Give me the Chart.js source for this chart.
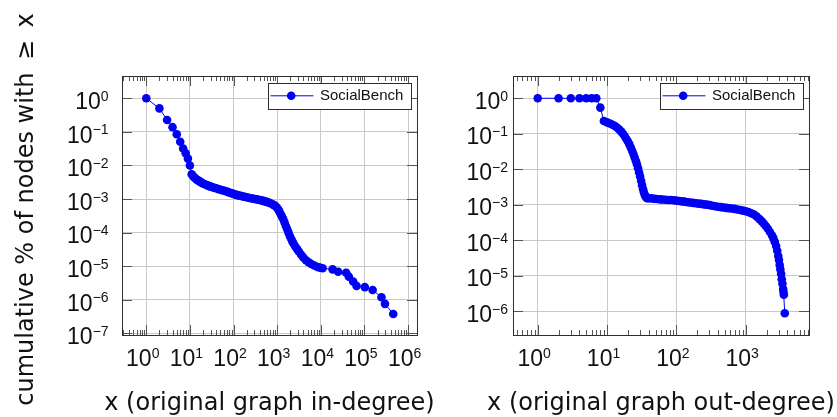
<!DOCTYPE html>
<html>
<head>
<meta charset="utf-8">
<script src="https://cdn.jsdelivr.net/npm/chart.js@4"></script>
<style>
  body { margin: 0; background: #fff; }
  #wrap { position: relative; width: 837px; height: 417px; }
  #wrap canvas { position: absolute; top: 0; }
</style>
</head>
<body>
<div id="wrap">
  <canvas id="inChart" width="440" height="417" style="left:0"></canvas>
  <canvas id="outChart" width="397" height="417" style="left:440px"></canvas>
</div>
<script>
const seriesName = "SocialBench";

// in-degree distribution: degree x, fraction of nodes with degree >= x
const inDeg = [1, 2, 3, 4, 5, 6, 7, 8, 9, 10,
  11, 12, 13, 14, 15, 16, 17, 18, 19, 20, 22, 24, 26, 28, 30, 33, 36, 40, 44, 48,
  53, 58, 64, 71, 78, 87, 96, 106, 117, 129, 142, 157, 173, 191, 210, 232, 256, 282, 311, 343,
  378, 417, 460, 500, 550, 600, 660, 720, 790, 850, 910, 980, 1050, 1120, 1200, 1290, 1380, 1480, 1580, 1700,
  1820, 1950, 2090, 2240, 2400, 2630, 2880, 3160, 3550, 3980, 4570, 5250, 6030, 7080, 8320, 9550,
  11000, 18600, 25000, 38000, 44000, 55000, 66000, 102000, 154000, 245000, 295000, 457000];
const inFrac = [1, 0.5, 0.226, 0.138, 0.085, 0.051, 0.032, 0.023, 0.016, 0.010,
  5.5e-3, 4.68e-3, 4.27e-3, 3.89e-3, 3.63e-3, 3.47e-3, 3.31e-3, 3.16e-3, 3.02e-3, 2.92e-3,
  2.75e-3, 2.63e-3, 2.51e-3, 2.43e-3, 2.34e-3, 2.24e-3, 2.16e-3, 2.09e-3, 2.0e-3, 1.93e-3,
  1.86e-3, 1.80e-3, 1.74e-3, 1.66e-3, 1.58e-3, 1.51e-3, 1.45e-3, 1.38e-3, 1.33e-3, 1.29e-3,
  1.26e-3, 1.22e-3, 1.17e-3, 1.15e-3, 1.11e-3, 1.08e-3, 1.06e-3, 1.02e-3, 1.0e-3, 9.8e-4,
  9.5e-4, 9.2e-4, 9.0e-4, 8.7e-4, 8.4e-4, 8.1e-4, 7.8e-4, 7.4e-4, 6.9e-4, 6.6e-4,
  6.2e-4, 5.6e-4, 5.0e-4, 4.3e-4, 3.6e-4, 3.0e-4, 2.5e-4, 2.0e-4, 1.58e-4, 1.26e-4,
  1.0e-4, 7.9e-5, 6.6e-5, 5.4e-5, 4.6e-5, 3.8e-5, 3.2e-5, 2.7e-5, 2.2e-5, 1.82e-5,
  1.51e-5, 1.32e-5, 1.17e-5, 1.05e-5, 9.5e-6, 9.1e-6,
  8.7e-6, 8.1e-6, 6.9e-6, 6.4e-6, 4.9e-6, 3.5e-6, 2.6e-6, 2.4e-6, 1.96e-6, 1.2e-6, 7.6e-7, 3.8e-7];

// out-degree distribution
const outDeg = [1, 2, 3, 4, 5, 6, 7, 8,
  9, 10, 11, 12, 13, 14, 15, 16, 17, 18, 19, 20, 21, 22, 23, 24, 25, 26, 27, 28, 29, 30,
  31, 32, 33, 34, 35, 36, 37, 38,
  40, 44, 48, 52, 58, 63, 69, 76, 83, 91, 100, 110, 120, 132, 145, 158, 174, 191, 209, 229,
  251, 275, 302, 331, 363, 398, 437, 479, 525, 575, 631, 692, 759, 832, 912, 1000, 1096, 1202, 1318, 1445,
  1585, 1700, 1820, 1950, 2090, 2240, 2400, 2510, 2630, 2750, 2850, 2950, 3020, 3090, 3160, 3240, 3310, 3390, 3470, 3510,
  3550, 3660];
const outFrac = [1, 1, 1, 1, 1, 1, 1, 0.546,
  0.229, 0.209, 0.195, 0.18, 0.166, 0.148, 0.132, 0.115, 0.1, 0.0851, 0.0708, 0.0603, 0.0501, 0.0407, 0.0331, 0.0269,
  0.0214, 0.0174, 0.0138, 0.0107, 8.1e-3, 6.2e-3, 4.7e-3, 3.55e-3, 2.75e-3, 2.24e-3, 1.9e-3, 1.7e-3, 1.58e-3, 1.53e-3,
  1.51e-3, 1.5e-3, 1.46e-3, 1.45e-3, 1.41e-3, 1.4e-3, 1.38e-3, 1.36e-3, 1.35e-3, 1.33e-3,
  1.3e-3, 1.27e-3, 1.24e-3, 1.22e-3, 1.17e-3, 1.15e-3, 1.12e-3, 1.1e-3, 1.07e-3, 1.05e-3,
  1.02e-3, 1.0e-3, 9.7e-4, 9.3e-4, 9.0e-4, 8.7e-4, 8.5e-4, 8.3e-4, 8.1e-4, 7.9e-4,
  7.8e-4, 7.6e-4, 7.3e-4, 7.1e-4, 6.8e-4, 6.5e-4, 6.2e-4, 5.75e-4, 5.25e-4, 4.6e-4,
  3.9e-4, 3.4e-4, 2.95e-4, 2.5e-4, 2.1e-4, 1.7e-4, 1.35e-4, 1.12e-4, 8.9e-5, 6.8e-5,
  5.0e-5, 3.55e-5, 2.75e-5, 2.0e-5, 1.5e-5, 1.12e-5, 7.9e-6, 5.9e-6, 4.2e-6, 3.5e-6,
  2.9e-6, 8.7e-7];

// tick exponents (labels are 10^e)
const inXExp = [0, 1, 2, 3, 4, 5, 6];
const inYExp = [0, -1, -2, -3, -4, -5, -6, -7];
const outXExp = [0, 1, 2, 3];
const outYExp = [0, -1, -2, -3, -4, -5, -6];

const yTitle = "cumulative % of nodes with \u2009\u2265\u2009 x";
const inTitle = "x (original graph in-degree)";
const outTitle = "x (original graph out-degree)";

const blue = "#0000f2";
const gridColor = "#c8c8c8";
const tickColor = "#555";
const frameColor = "#2e2e2e";
const numFont = "23px 'Liberation Sans'";
const supFont = "14px 'Liberation Sans'";
const titleFont = "24px 'DejaVu Sans'";

function drawPow(ctx, exp, x, y, align) {
  const sup = exp < 0 ? "\u2212" + -exp : String(exp);
  ctx.font = numFont;
  const wb = ctx.measureText("10").width;
  ctx.font = supFont;
  const ws = ctx.measureText(sup).width;
  const total = wb + ws;
  const left = align === "right" ? x - total : x - total / 2;
  ctx.textAlign = "left";
  ctx.textBaseline = "alphabetic";
  ctx.fillStyle = "#111";
  ctx.font = numFont;
  ctx.fillText("10", left, y);
  ctx.font = supFont;
  ctx.fillText(sup, left + wb, y - 8.2);
}

const decor = {
  id: "decor",
  afterDraw(chart, args, o) {
    const ctx = chart.ctx;
    const a = chart.chartArea;
    const xs = chart.scales.x;
    const ys = chart.scales.y;
    ctx.save();

    // tick marks, drawn inward on all four sides
    ctx.strokeStyle = tickColor;
    ctx.lineWidth = 1;
    ctx.beginPath();
    const e0 = Math.floor(Math.log10(xs.min));
    const e1 = Math.ceil(Math.log10(xs.max));
    for (let e = e0; e <= e1; e++) {
      for (let m = 2; m <= 9; m++) {
        const v = m * Math.pow(10, e);
        if (v < xs.min || v > xs.max) continue;
        const px = Math.round(xs.getPixelForValue(v)) + 0.5;
        ctx.moveTo(px, a.bottom);
        ctx.lineTo(px, a.bottom - 5);
        ctx.moveTo(px, a.top);
        ctx.lineTo(px, a.top + 5);
      }
    }
    o.xExp.forEach((e) => {
      const px = Math.round(xs.getPixelForValue(Math.pow(10, e))) + 0.5;
      ctx.moveTo(px, a.bottom);
      ctx.lineTo(px, a.bottom - 10);
      ctx.moveTo(px, a.top);
      ctx.lineTo(px, a.top + 10);
    });
    o.yExp.forEach((e) => {
      const py = Math.round(ys.getPixelForValue(Math.pow(10, e))) + 0.5;
      ctx.moveTo(a.left, py);
      ctx.lineTo(a.left + 10, py);
      ctx.moveTo(a.right, py);
      ctx.lineTo(a.right - 10, py);
    });
    ctx.stroke();

    // frame
    ctx.strokeStyle = frameColor;
    ctx.strokeRect(Math.round(a.left) + 0.5, Math.round(a.top) + 0.5,
      Math.round(a.right - a.left), Math.round(a.bottom - a.top));

    // tick labels
    o.xExp.forEach((e) => {
      drawPow(ctx, e, xs.getPixelForValue(Math.pow(10, e)) - 3.5, a.bottom + 30.7, "center");
    });
    o.yExp.forEach((e) => {
      drawPow(ctx, e, a.left - o.yLabelGap, ys.getPixelForValue(Math.pow(10, e)) + 10.7, "right");
    });

    // axis titles
    ctx.fillStyle = "#111";
    ctx.font = titleFont;
    ctx.textAlign = "center";
    ctx.textBaseline = "alphabetic";
    ctx.fillText(o.xTitle, (a.left + a.right) / 2, 410);
    if (o.yTitle) {
      ctx.save();
      ctx.translate(33, 209.5);
      ctx.rotate(-Math.PI / 2);
      ctx.fillText(o.yTitle, 0, 0);
      ctx.restore();
    }

    // legend box in the top right corner of the plot
    const ds = chart.data.datasets[0];
    const bw = 143, bh = 26;
    const bx = Math.round(a.right - 6 - bw) + 0.5;
    const by = Math.round(a.top + 7) + 0.5;
    ctx.fillStyle = "#fff";
    ctx.fillRect(bx, by, bw, bh);
    ctx.strokeStyle = frameColor;
    ctx.strokeRect(bx, by, bw, bh);
    const ly = by + 12.3;
    ctx.strokeStyle = blue;
    ctx.beginPath();
    ctx.moveTo(bx + 2, ly);
    ctx.lineTo(bx + 45, ly);
    ctx.stroke();
    ctx.fillStyle = blue;
    ctx.beginPath();
    ctx.arc(bx + 22.7, ly, 4.3, 0, Math.PI * 2);
    ctx.fill();
    ctx.fillStyle = "#111";
    ctx.font = "15px 'Liberation Sans'";
    ctx.textAlign = "left";
    ctx.fillText(ds.label, bx + 51.5, by + 16.3);

    ctx.restore();
  },
};

function makeChart(id, xVals, yVals, o) {
  const points = xVals.map((x, i) => ({ x: x, y: yVals[i] }));
  return new Chart(document.getElementById(id), {
    type: "scatter",
    data: {
      datasets: [
        {
          label: seriesName,
          data: points,
          showLine: true,
          borderColor: blue,
          borderWidth: 1,
          backgroundColor: blue,
          pointBackgroundColor: blue,
          pointRadius: 4.3,
          pointHoverRadius: 4.3,
          pointBorderWidth: 0,
        },
      ],
    },
    options: {
      responsive: false,
      animation: false,
      devicePixelRatio: 1,
      layout: { padding: o.padding },
      plugins: {
        legend: { display: false },
        tooltip: { enabled: false },
        decor: o,
      },
      scales: {
        x: {
          type: "logarithmic",
          min: o.xMin,
          max: o.xMax,
          afterBuildTicks: (s) => {
            s.ticks = o.xExp.map((e) => ({ value: Math.pow(10, e) }));
          },
          ticks: { display: false },
          grid: { color: gridColor, drawTicks: false, lineWidth: 1 },
          border: { display: false },
        },
        y: {
          type: "logarithmic",
          min: o.yMin,
          max: o.yMax,
          afterBuildTicks: (s) => {
            s.ticks = o.yExp.map((e) => ({ value: Math.pow(10, e) }));
          },
          ticks: { display: false },
          grid: { color: gridColor, drawTicks: false, lineWidth: 1 },
          border: { display: false },
        },
      },
    },
    plugins: [decor],
  });
}

makeChart("inChart", inDeg, inFrac, {
  padding: { left: 122, right: 23, top: 76, bottom: 82 },
  xMin: 0.278, xMax: 1.6e6,
  yMin: 9.0e-8, yMax: 4.6,
  xExp: inXExp, yExp: inYExp,
  yLabelGap: 13.4,
  xTitle: inTitle,
  yTitle: yTitle,
});

makeChart("outChart", outDeg, outFrac, {
  padding: { left: 73, right: 28, top: 76, bottom: 82 },
  xMin: 0.44, xMax: 8185,
  yMin: 2.11e-7, yMax: 4.25,
  xExp: outXExp, yExp: outYExp,
  yLabelGap: 5,
  xTitle: outTitle,
  yTitle: null,
});
</script>
</body>
</html>
